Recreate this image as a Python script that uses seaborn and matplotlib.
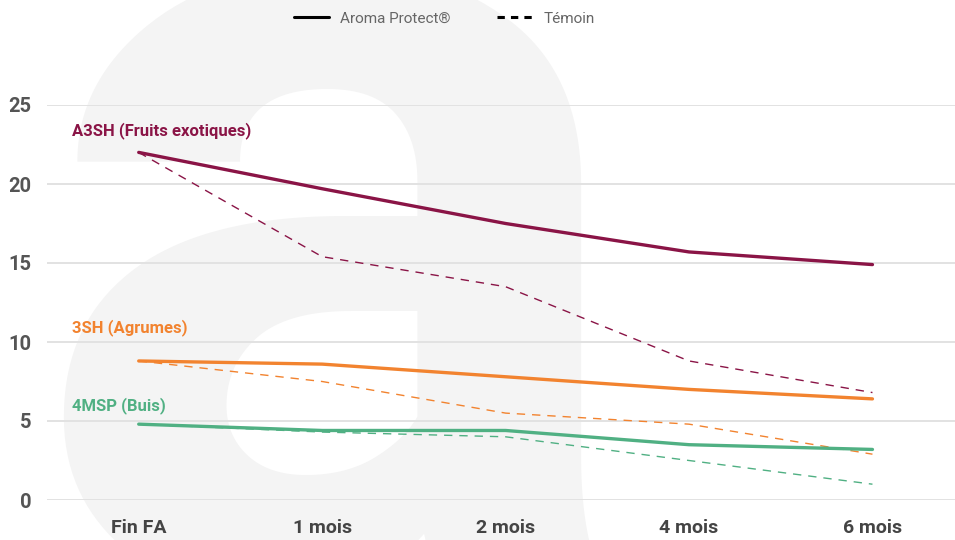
import pandas as pd
import numpy as np
import seaborn as sns
import matplotlib.pyplot as plt
from matplotlib.lines import Line2D

periodes = ["Fin FA", "1 mois", "2 mois", "4 mois", "6 mois"]

a3sh_protect = [22.0, 19.7, 17.5, 15.7, 14.9]
a3sh_temoin = [22.0, 15.4, 13.5, 8.8, 6.8]
sh3_protect = [8.8, 8.6, 7.8, 7.0, 6.4]
sh3_temoin = [8.8, 7.5, 5.5, 4.8, 2.9]
msp4_protect = [4.8, 4.4, 4.4, 3.5, 3.2]
msp4_temoin = [4.8, 4.3, 4.0, 2.5, 1.0]

noms = ["A3SH (Fruits exotiques)", "3SH (Agrumes)", "4MSP (Buis)"]
couleurs = ["#8a1446", "#f2832f", "#50b083"]
label_y = [23.4, 10.9, 5.95]

sns.set_style("white")
plt.rcParams['font.family'] = ['Roboto', 'DejaVu Sans']

fig = plt.figure(figsize=(9.55, 5.4), dpi=100)

# big watermark letter in the background
fig.text(0.025, -0.09, "a", fontsize=830, fontweight="bold", color="#f4f4f4",
         ha="left", va="baseline", zorder=-5)

ax = fig.add_axes([47/955, 1-500/540, 908/955, 395/540])
ax.patch.set_alpha(0)

series = [(a3sh_protect, a3sh_temoin), (sh3_protect, sh3_temoin), (msp4_protect, msp4_temoin)]
for (prot, tem), nom, c, ly in zip(series, noms, couleurs, label_y):
    df = pd.DataFrame({"periode": periodes, "protect": prot, "temoin": tem})
    sns.lineplot(data=df, x="periode", y="temoin", ax=ax, color=c, lw=1.0,
                 sort=False, zorder=3)
    ax.lines[-1].set_dashes((6, 5))
    sns.lineplot(data=df, x="periode", y="protect", ax=ax, color=c, lw=2.4,
                 sort=False, zorder=4)
    ax.text(-0.365, ly, nom, color=c, fontsize=12, fontweight="bold",
            va="center", ha="left")

ax.set_xlim(-0.5, 4.45)
ax.set_ylim(0, 25)
ax.set_yticks([0, 5, 10, 15, 20, 25])
ax.yaxis.grid(True, color="#e2e2e2", lw=1.4)
ax.set_axisbelow(True)
for s in ax.spines.values():
    s.set_visible(False)
ax.set_xlabel("")
ax.set_ylabel("")
ax.tick_params(axis="y", length=0, pad=11, labelsize=14.5, labelcolor="#555555")
ax.tick_params(axis="x", length=0, pad=14, labelsize=14, labelcolor="#444444")
for t in ax.get_xticklabels() + ax.get_yticklabels():
    t.set_fontweight("bold")

handles = [Line2D([], [], color="black", lw=2.2),
           Line2D([], [], color="black", lw=2.2, dashes=(2.4, 2.0))]
leg = fig.legend(handles, ["Aroma Protect®", "Témoin"], loc="upper center",
                 bbox_to_anchor=(0.465, 1.004), ncol=2, frameon=False,
                 fontsize=11, handlelength=2.3, handletextpad=0.75,
                 columnspacing=3.0)
for t in leg.get_texts():
    t.set_color("#666666")

fig.savefig("out.png", dpi=100)
